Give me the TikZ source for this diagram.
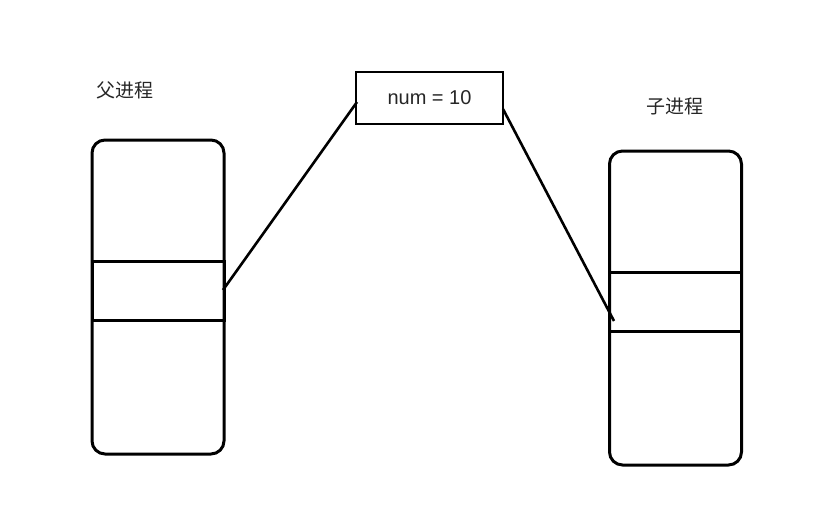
\documentclass[tikz,border=0pt]{standalone}
\usepackage{fontspec}
\setmainfont{Liberation Sans}
\newfontfamily\cjk{Noto Sans CJK SC}
\begin{document}
\begin{tikzpicture}[x=1pt,y=-1pt,
  proc/.style={draw=black,line width=3pt,rounded corners=13pt,
    minimum width=132pt,minimum height=314pt,inner sep=0pt},
  band/.style={draw=black,line width=3pt,
    minimum width=132pt,minimum height=59pt,inner sep=0pt},
  varbox/.style={draw=black,line width=2.8pt,
    minimum width=147pt,minimum height=52pt,inner sep=0pt,
    font=\fontsize{20}{22}\selectfont,text=black!85},
  title/.style={font=\cjk\fontsize{19}{21}\selectfont,text=black!85},
  link/.style={draw=black,line width=2.6pt}]
  \useasboundingbox (0,0) rectangle (826,516);

  % parent process
  \node[proc] (parent) at (158,297) {};
  \node[band] (pband) at (158,290.5) {};
  \node[title] (ptitle) at (125,90) {父进程};

  % child process
  \node[proc] (child) at (675.5,308) {};
  \node[band] (cband) at (675.5,301.5) {};
  \node[title] (ctitle) at (675,106) {子进程};

  % shared variable
  \node[varbox] (var) at (429.5,98) {num = 10};

  % connectors
  \coordinate (pend) at (223,290);
  \coordinate (cend) at (614,321);
  \coordinate (vl) at (357,102);
  \coordinate (vr) at (503,109);
  \draw[link] (vl) -- (pend);
  \draw[link] (vr) -- (cend);
\end{tikzpicture}
\end{document}
